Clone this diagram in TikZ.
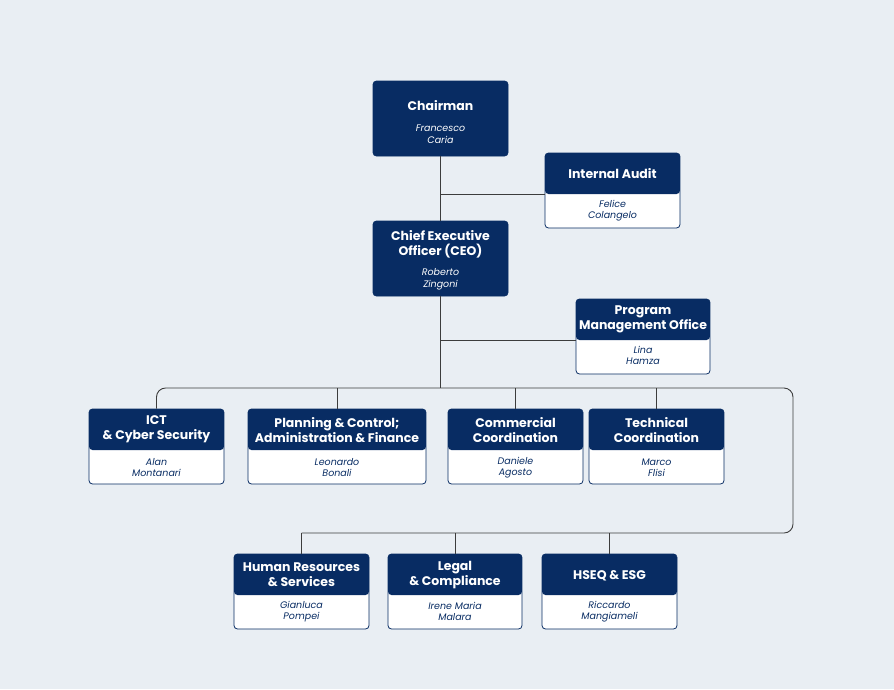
\documentclass[tikz,border=0pt]{standalone}
\usepackage{fontspec}
\setmainfont{Poppins}
\definecolor{navy}{RGB}{8,44,99}
\definecolor{paper}{RGB}{233,238,243}
\definecolor{wire}{RGB}{60,60,60}
\tikzset{
    unit/.style={draw=navy, line width=0.8pt, fill=white, rounded corners=3.5pt,
        minimum width=135pt, minimum height=75pt, inner sep=0pt},
    head/.style={unit, path picture={\fill[navy] (path picture bounding box.north west)
        rectangle ([yshift=34pt]path picture bounding box.south east);}},
    full/.style={unit, fill=navy},
    title/.style={text=white, font=\bfseries\fontsize{12.5}{15}\selectfont, align=center, inner sep=0pt},
    person/.style={text=navy, font=\itshape\fontsize{9.5}{11.5}\selectfont, align=center, inner sep=0pt},
    link/.style={draw=wire, line width=0.9pt}
}
\begin{document}
\begin{tikzpicture}[x=1pt, y=-1pt]

        \fill[paper] (0,0) rectangle (894,689);
        \useasboundingbox (0,0) rectangle (894,689);

        % top of the chart
        \node [full] (chair) at (440.5,118.5) {};
        \node [title] (chair-t) at ([yshift=-25pt]chair.north) {Chairman};
        \node [person, text=white] (chair-p) at ([yshift=-53.5pt]chair.north) {Francesco\\Caria};

        \node [head] (audit) at (612.5,190.5) {};
        \node [title] (audit-t) at ([yshift=-21pt]audit.north) {Internal Audit};
        \node [person] (audit-p) at ([yshift=-58pt]audit.north) {Felice\\Colangelo};

        \node [full] (ceo) at (440.5,258.5) {};
        \node [title] (ceo-t) at ([yshift=-23.5pt]ceo.north) {Chief Executive\\Officer (CEO)};
        \node [person, text=white] (ceo-p) at ([yshift=-58.5pt]ceo.north) {Roberto\\Zingoni};

        \node [head, minimum width=134pt] (pmo) at (643,336.5) {};
        \node [title] (pmo-t) at ([yshift=-20.5pt]pmo.north) {Program\\Management Office};
        \node [person] (pmo-p) at ([yshift=-57pt]pmo.north) {Lina\\Hamza};

        % first row
        \node [head] (ict) at (156.5,446.5) {};
        \node [title] (ict-t) at ([yshift=-21pt]ict.north) {ICT\\\& Cyber Security};
        \node [person] (ict-p) at ([yshift=-59pt]ict.north) {Alan\\Montanari};

        \node [head, minimum width=178pt] (plan) at (337,446.5) {};
        \node [title] (plan-t) at ([yshift=-21pt]plan.north) {Planning \& Control;\\Administration \& Finance};
        \node [person] (plan-p) at ([yshift=-59pt]plan.north) {Leonardo\\Bonali};

        \node [head] (comm) at (515.5,446.5) {};
        \node [title] (comm-t) at ([yshift=-21pt]comm.north) {Commercial\\Coordination};
        \node [person] (comm-p) at ([yshift=-59pt]comm.north) {Daniele\\Agosto};

        \node [head] (tech) at (656.5,446.5) {};
        \node [title] (tech-t) at ([yshift=-21pt]tech.north) {Technical\\Coordination};
        \node [person] (tech-p) at ([yshift=-59pt]tech.north) {Marco\\Flisi};

        % second row
        \node [head] (hr) at (301.5,591.5) {};
        \node [title] (hr-t) at ([yshift=-21pt]hr.north) {Human Resources\\\& Services};
        \node [person] (hr-p) at ([yshift=-58pt]hr.north) {Gianluca\\Pompei};

        \node [head, minimum width=134pt] (legal) at (455,591.5) {};
        \node [title] (legal-t) at ([yshift=-21pt]legal.north) {Legal\\\& Compliance};
        \node [person] (legal-p) at ([yshift=-58pt]legal.north) {Irene Maria\\Malara};

        \node [head] (hseq) at (609.5,591.5) {};
        \node [title] (hseq-t) at ([yshift=-22pt]hseq.north) {HSEQ \& ESG};
        \node [person] (hseq-p) at ([yshift=-58pt]hseq.north) {Riccardo\\Mangiameli};

        % connectors
        \coordinate (bus) at (440.5,388);
        \coordinate (turn) at (793,388);
        \coordinate (low) at (793,533);

        \path [link] (chair.south) -- (ceo.north);
        \path [link] ([yshift=-3.5pt]audit.west) -- ([yshift=-3.5pt]audit.west -| chair.south);
        \path [link] (ceo.south) -- (bus);
        \path [link] ([yshift=-3.5pt]pmo.west) -- ([yshift=-3.5pt]pmo.west -| ceo.south);

        \path [link, rounded corners=9pt] (ict.north) |- (turn) -- (low) -- (hr.north |- low);
        \path [link] (hr.north |- low) -- (hr.north);
        \path [link] (plan.north) -- (plan.north |- bus);
        \path [link] (comm.north) -- (comm.north |- bus);
        \path [link] (tech.north) -- (tech.north |- bus);
        \path [link] (legal.north) -- (legal.north |- low);
        \path [link] (hseq.north) -- (hseq.north |- low);

    \end{tikzpicture}
\end{document}
